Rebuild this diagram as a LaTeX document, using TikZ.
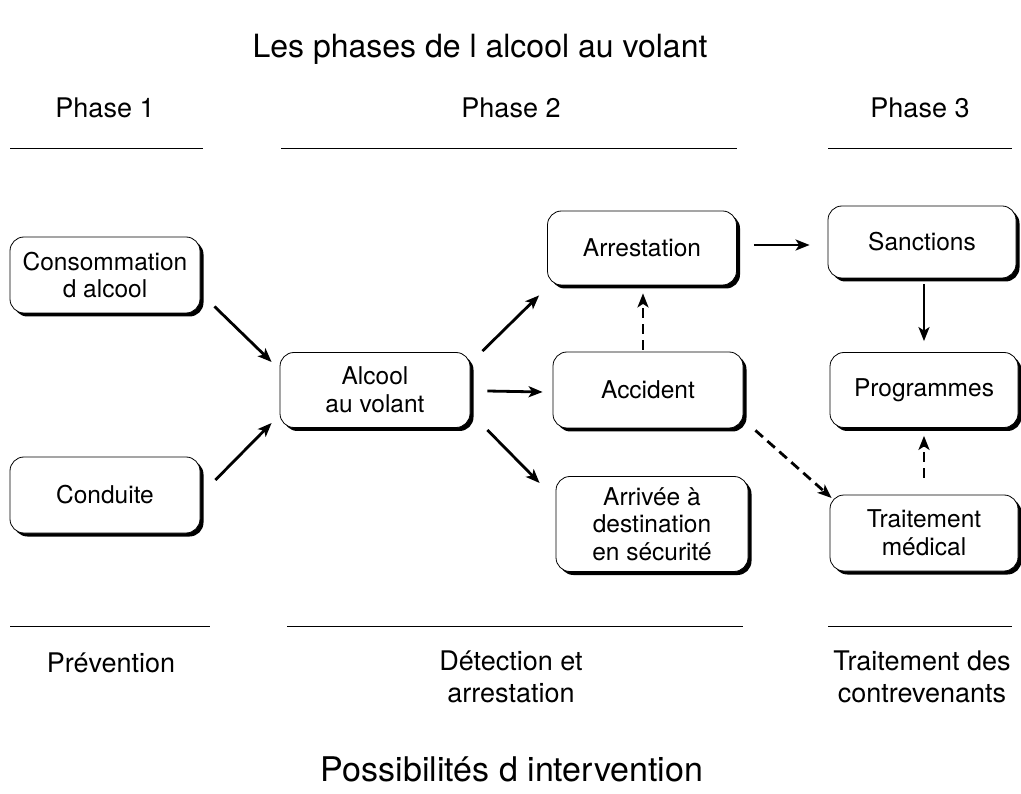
\documentclass[tikz,border=0pt]{standalone}
\usepackage{fontspec}
\setmainfont{TeX Gyre Heros}
\usetikzlibrary{arrows.meta,shadows}
\begin{document}
\begin{tikzpicture}[x=1pt,y=-1pt,
  box/.style={draw=black, line width=0.8pt, fill=white, rounded corners=14pt,
    align=center, font=\fontsize{24.5}{27.5}\selectfont, inner sep=0pt,
    drop shadow={shadow xshift=3.5pt, shadow yshift=-3.5pt, fill=black, opacity=1}},
  lbl/.style={font=\fontsize{27}{32}\selectfont, align=center},
  ttl/.style={font=\fontsize{32}{38}\selectfont},
  rule/.style={line width=0.7pt},
  arr/.style={line width=2.8pt, -{Stealth[length=14pt,width=11pt,inset=3.5pt]}},
  darr/.style={arr, dash pattern=on 10pt off 6pt}]
\useasboundingbox (0,0) rectangle (1021,794);
\node[ttl] (title) at (480,49) {Les phases de l alcool au volant};
\node[ttl, font=\fontsize{34}{40}\selectfont] (foot) at (512,769) {Possibilités d intervention};
\node[lbl] (p1) at (105,108) {Phase 1};
\node[lbl] (p2) at (511,108) {Phase 2};
\node[lbl] (p3) at (920,108) {Phase 3};
\coordinate (t1a) at (10,148); \coordinate (t1b) at (203,148);
\coordinate (t2a) at (281,148); \coordinate (t2b) at (737,148);
\coordinate (t3a) at (828,148); \coordinate (t3b) at (1012,148);
\draw[rule] (t1a) -- (t1b); \draw[rule] (t2a) -- (t2b); \draw[rule] (t3a) -- (t3b);
\coordinate (b1a) at (10,626); \coordinate (b1b) at (210,626);
\coordinate (b2a) at (287,626); \coordinate (b2b) at (743,626);
\coordinate (b3a) at (828,626); \coordinate (b3b) at (1012,626);
\draw[rule] (b1a) -- (b1b); \draw[rule] (b2a) -- (b2b); \draw[rule] (b3a) -- (b3b);
\node[lbl] (l1) at (111,663) {Prévention};
\node[lbl] (l2) at (511,677) {Détection et\\arrestation};
\node[lbl] (l3) at (922,677) {Traitement des\\contrevenants};
\node[box, minimum width=190pt, minimum height=76pt] (cons) at (105,275) {Consommation\\d alcool};
\node[box, minimum width=190pt, minimum height=76pt] (cond) at (105,495) {Conduite};
\node[box, minimum width=190pt, minimum height=75pt] (alc) at (375,390) {Alcool\\au volant};
\node[box, minimum width=189pt, minimum height=74pt] (arr) at (642,248) {Arrestation};
\node[box, minimum width=190pt, minimum height=76pt] (acc) at (648,390) {Accident};
\node[box, minimum width=192pt, minimum height=95pt] (arv) at (652,524) {Arrivée à\\destination\\en sécurité};
\node[box, minimum width=188pt, minimum height=72pt] (san) at (922,242) {Sanctions};
\node[box, minimum width=188pt, minimum height=75pt] (prog) at (924,390) {Programmes};
\node[box, minimum width=188pt, minimum height=76pt] (trt) at (924,533) {Traitement\\médical};
\draw[arr] ([shift={(14,-7)}]cons.south east) -- ([shift={(-8,-28)}]alc.west);
\draw[arr] ([shift={(15,-15)}]cond.east) -- ([shift={(-8,33)}]alc.west);
\draw[arr] ([shift={(12,-1)}]alc.north east) -- ([shift={(-8,10)}]arr.south west);
\draw[arr] ([shift={(17,1)}]alc.east) -- ([shift={(-10,2)}]acc.west);
\draw[arr] ([shift={(17,40)}]alc.east) -- ([shift={(-16,-41)}]arv.west);
\draw[darr] ([shift={(-5,-2)}]acc.north) -- ([shift={(1,8)}]arr.south);
\draw[arr] ([shift={(17,-3)}]arr.east) -- ([shift={(-18,3)}]san.west);
\draw[arr] ([shift={(2,6)}]san.south) -- ([shift={(0,-11)}]prog.north);
\draw[darr] ([shift={(0,-17)}]trt.north) -- ([shift={(0,8)}]prog.south);
\draw[darr] ([shift={(12,2)}]acc.south east) -- ([shift={(2,-35)}]trt.west);
\end{tikzpicture}
\end{document}
